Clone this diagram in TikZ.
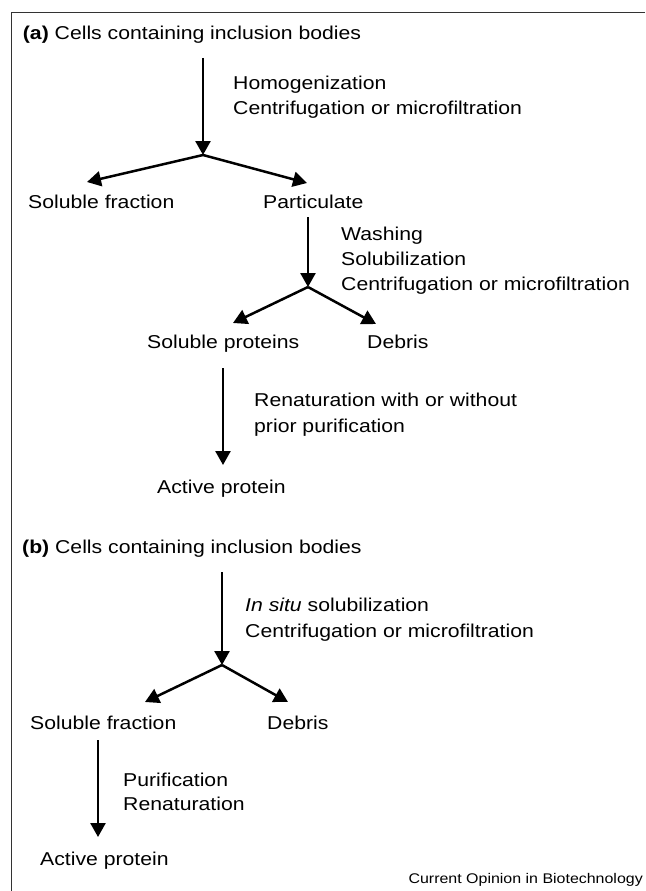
\documentclass[tikz,border=0pt]{standalone}
\usepackage{fontspec}
\setmainfont[FakeStretch=1.14]{Liberation Sans}
\usetikzlibrary{arrows.meta}
\begin{document}
\begin{tikzpicture}[x=1pt,y=-1pt,
  txt/.style={anchor=base west,inner sep=0pt,font=\fontsize{18.6}{25}\selectfont},
  foot/.style={anchor=base east,inner sep=0pt,font=\fontsize{14}{17}\selectfont},
  flow/.style={line width=2.5pt,-{Triangle[width=15pt,length=14pt]}},
  frameline/.style={line width=1pt,draw=black!80}]
\useasboundingbox (0,0) rectangle (645,891);
% frame
\coordinate (fr1) at (645,12.5);
\coordinate (fr2) at (11.5,12.5);
\coordinate (fr3) at (11.5,891);
\draw[frameline] (fr1) -- (fr2) -- (fr3);

% ---------- (a) ----------
\node[txt] (ahead) at (22.7,40) {\textbf{(a)} Cells containing inclusion bodies};
\coordinate (a1s) at (203,58);
\coordinate (a1e) at (203,155);
\draw[flow] (a1s) -- (a1e);
\node[txt] (ahom) at (233,89) {Homogenization};
\node[txt] (acen1) at (233,114) {Centrifugation or microfiltration};
\coordinate (a1l) at (87,182);
\coordinate (a1r) at (307,183);
\draw[flow] (a1e) -- (a1l);
\draw[flow] (a1e) -- (a1r);
\node[txt] (asolf) at (28,208) {Soluble fraction};
\node[txt] (apart) at (263,208) {Particulate};

\coordinate (a2s) at (308,217);
\coordinate (a2e) at (308,287);
\draw[flow] (a2s) -- (a2e);
\node[txt] (awash) at (341,240) {Washing};
\node[txt] (asolub) at (341,265) {Solubilization};
\node[txt] (acen2) at (341,290) {Centrifugation or microfiltration};
\coordinate (a2l) at (233,323);
\coordinate (a2r) at (376,324);
\draw[flow] (a2e) -- (a2l);
\draw[flow] (a2e) -- (a2r);
\node[txt] (asolp) at (147,348) {Soluble proteins};
\node[txt] (adeb) at (367,348) {Debris};

\coordinate (a3s) at (223,368);
\coordinate (a3e) at (223,465);
\draw[flow] (a3s) -- (a3e);
\node[txt] (aren1) at (254,406) {Renaturation with or without};
\node[txt] (aren2) at (254,432) {prior purification};
\node[txt] (aact) at (157,493) {Active protein};

% ---------- (b) ----------
\node[txt] (bhead) at (22,553) {\textbf{(b)} Cells containing inclusion bodies};
\coordinate (b1s) at (222,572);
\coordinate (b1e) at (222,665);
\draw[flow] (b1s) -- (b1e);
\node[txt] (binsitu) at (245,611) {\textit{In situ} solubilization};
\node[txt] (bcen) at (245,637) {Centrifugation or microfiltration};
\coordinate (b1l) at (145,702);
\coordinate (b1r) at (288,702);
\draw[flow] (b1e) -- (b1l);
\draw[flow] (b1e) -- (b1r);
\node[txt] (bsolf) at (30,729) {Soluble fraction};
\node[txt] (bdeb) at (267,729) {Debris};

\coordinate (b2s) at (98,740);
\coordinate (b2e) at (98,837);
\draw[flow] (b2s) -- (b2e);
\node[txt] (bpur) at (123,786) {Purification};
\node[txt] (bren) at (123,810) {Renaturation};
\node[txt] (bact) at (40,865) {Active protein};

\node[foot] (footer) at (643,883) {Current Opinion in Biotechnology};
\end{tikzpicture}
\end{document}
